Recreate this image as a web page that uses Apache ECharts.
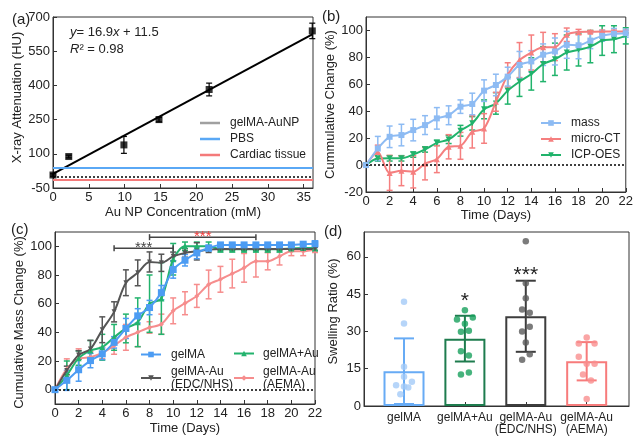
<!DOCTYPE html>
<html><head><meta charset="utf-8">
<script src="https://cdn.jsdelivr.net/npm/echarts@6/dist/echarts.min.js"></script>
<style>html,body{margin:0;padding:0;background:#fff}#c{width:636px;height:436px}</style>
</head><body><div id="c"></div>
<script>
// ---------- Panel (a) ----------
const aConc = [0, 2.2, 9.9, 14.8, 21.8, 36.2];
const aHU = [7, 88, 139, 250, 382, 639];
const aHUErr = [5, 6, 37, 10, 28, 34];
const aFitX = [0, 36.2];
const aFitY = [11.5, 623.3];
const aPBS = 37;
const aCardiac = -13;
const aXTicks = [0, 5, 10, 15, 20, 25, 30, 35];
const aYTicks = [-50, 100, 250, 400, 550, 700];

// ---------- Panel (b) ----------
const days = [0,1,2,3,4,5,6,7,8,9,10,11,12,13,14,15,16,17,18,19,20,21,22];
const bMass = [0,12.3,21,22.3,26,29.7,34.7,37,43.4,45.4,55.3,59.5,65.7,74.4,77,82,84.4,89.3,89,92.5,96,97.5,98];
const bMassErr = [0,9,8,8,8,7,8,7,5,8,8,8,7,10,8,8,10,10,10,6,4,4,3];
const bMicro = [0,9.8,-5.8,-4.3,-5,1,4.4,13.6,14.3,24.7,27.2,47,67,78,83.6,87.6,87.6,96.8,98.8,99,99.3,99.3,99.3];
const bMicroErr = [0,5,13,11,12,12,10,9,10,12,11,7,9,13,13,11,10,5,2,1,1,1,1];
const bIcp = [0,4.9,5,5,7.8,11.6,16.5,19,25.5,31,41.4,45.8,55.3,62,67.7,75,78.6,83.6,85.6,88,92.5,93.5,96];
const bIcpErr = [0,2,2,2,2,2,2,3,4,5,7,8,10,11,12,13,12,13,12,12,11,10,6];
const bYTicks = [-20, 0, 20, 40, 60, 80, 100];

// ---------- Panel (c) ----------
const cGelMA = [0,6.5,13.9,20.3,25,33,42.7,51.5,57.3,67.7,83.8,90.3,95.4,98.8,101,101,101,101,101,101,101,101.5,101.8];
const cGelMAErr = [0,7,8,5,4,4,7,5,5,5,6,4,4,2,1,1,1,1,1,1,1,1,2];
const cEdc = [0,13.4,24.2,28.4,41.8,54.3,74.6,81.5,89.1,88.5,93,95.4,96.5,97.7,98.2,98.2,98.2,98.2,98.2,98.2,98.2,98.2,98.2];
const cEdcErr = [0,3,3,6,9,7,9,9,7,6,3,3,6,2,1,1,1,1,1,1,1,1,1];
const cPlusAu = [0,10,22,27.3,29.6,36.5,42.7,47,60,63.6,91,100,100,100,98,98,98,98,98,98,98.5,98.8,98.8];
const cPlusAuErr = [0,10,5,7,9,9,10,17,20,25,11,3,3,3,2,2,2,2,2,2,2,2,2];
const cAema = [0,14.5,21.5,22.6,25.6,30.7,36.5,40,43.4,45.7,55,60.3,65.4,73.4,77,81,85,89.6,89.6,93,96.5,96.5,97.7];
const cAemaErr = [0,7,7,4,4,6,9,10,4,7,9,8,8,10,9,10,10,11,6,6,3,3,2];
const cBrackets = [[5, 10, 98.7], [8, 17, 106.4]];
const cBracketText = ['***', '***'];
const cYTicks = [0, 20, 40, 60, 80, 100];

// ---------- Panel (d) ----------
const dCats = ['gelMA', 'gelMA+Au', 'gelMA-Au\n(EDC/NHS)', 'gelMA-Au\n(AEMA)'];
const dMean = [14.0, 27.1, 36.1, 18.0];
const dSD = [13.2, 9.2, 14.3, 7.7];
const dPoints = [
  [41.9, 33.2, 15.8, 11.8, 8.3, 7.8, 7.4, 9.8, 4.7],
  [38.5, 34.8, 35.6, 33.1, 29.9, 30.3, 22.0, 20.3, 12.7, 13.5],
  [66.3, 49.4, 43.3, 38.8, 37.5, 30.0, 31.9, 25.5, 20.8, 18.6],
  [27.6, 25.1, 25.1, 19.8, 17.0, 17.0, 12.7, 10.3, 2.8]
];
const dJitter = [
  [0, 0, 0, 0, -0.13, 0, 0.07, 0.13, -0.06],
  [0, -0.13, 0.13, 0, -0.065, 0.065, -0.065, 0.065, -0.065, 0.065],
  [0, 0, 0, -0.06, 0.065, -0.06, 0.065, 0, 0.065, -0.06],
  [0, -0.13, 0.13, -0.13, 0, 0.13, -0.06, 0.07, 0]
];
const dSig = ['', '*', '***', ''];
const dSigY = [0, 42, 52.8, 0];
const dYTicks = [0, 15, 30, 45, 60];

// ---------- styles ----------
const FF = '"Liberation Sans", Arial, Helvetica, sans-serif';
const TXT = '#222';
const AX = '#333';

function axisBase(extra) {
  return Object.assign({
    axisLine: { show: true, onZero: false, lineStyle: { color: AX, width: 1 } },
    axisTick: { show: true, inside: true, length: 4, lineStyle: { color: AX } },
    axisLabel: { color: TXT, fontSize: 13, fontFamily: FF, margin: 3 },
    splitLine: { show: false },
    nameLocation: 'middle',
    nameTextStyle: { color: TXT, fontSize: 13, fontFamily: FF }
  }, extra);
}
function withTicks(ax, vals) {
  ax.axisLabel = Object.assign({}, ax.axisLabel, { customValues: vals });
  ax.axisTick = Object.assign({}, ax.axisTick, { customValues: vals });
  return ax;
}
function namePad(ax, pad) {
  ax.nameTextStyle = Object.assign({}, ax.nameTextStyle, { padding: pad });
  return ax;
}

function errSeries(xs, ys, es, colors, idx, cap, lw, z) {
  return {
    type: 'custom', xAxisIndex: idx, yAxisIndex: idx, silent: true, z: z || 2,
    data: xs.map((x, i) => [x, ys[i], es[i], i]),
    encode: { x: 0, y: 1 },
    renderItem: function (p, api) {
      const x = api.value(0), y = api.value(1), e = api.value(2), i = api.value(3);
      if (!e) return null;
      const t = api.coord([x, y + e]), b = api.coord([x, y - e]);
      const h = cap / 2;
      const c = Array.isArray(colors) ? colors[i] : colors;
      const st = { stroke: c, lineWidth: lw };
      return { type: 'group', children: [
        { type: 'line', shape: { x1: t[0], y1: t[1], x2: b[0], y2: b[1] }, style: st },
        { type: 'line', shape: { x1: t[0] - h, y1: t[1], x2: t[0] + h, y2: t[1] }, style: st },
        { type: 'line', shape: { x1: b[0] - h, y1: b[1], x2: b[0] + h, y2: b[1] }, style: st }
      ] };
    }
  };
}
function lineSeries(name, xs, ys, color, idx, symbol, size, rotate) {
  return {
    type: 'line', name, xAxisIndex: idx, yAxisIndex: idx, z: 3,
    data: xs.map((x, i) => [x, ys[i]]),
    smooth: 0.3, symbol, symbolSize: size, symbolRotate: rotate || 0,
    lineStyle: { color, width: 2 }, itemStyle: { color }
  };
}
function hLine(name, idx, y, color, type, width) {
  return {
    type: 'line', name, xAxisIndex: idx, yAxisIndex: idx, data: [], z: 1,
    itemStyle: { color },
    markLine: { silent: true, symbol: 'none', label: { show: false },
      lineStyle: { color, type, width },
      data: [{ yAxis: y }] }
  };
}

const C = {
  pbs: '#5aa8f5', cardiac: '#f47a7a',
  mass: '#8dbbf3', micro: '#f57f7f', icp: '#20b36b',
  gelma: '#4c9cf3', edc: '#555555', plus: '#22b36d', aema: '#f68d8d'
};
const dBorder = ['#67abf5', '#1e7c4e', '#3d3d3d', '#f77b7b'];
const dDot = ['#a4cbf7', '#18a05c', '#5a5a5a', '#f98f8f'];

const grids = [
  { left: 53, top: 17, width: 260, height: 171 },
  { left: 366, top: 17, width: 262, height: 175 },
  { left: 55, top: 232, width: 260, height: 173 },
  { left: 364, top: 232, width: 265, height: 175 }
].map(g => Object.assign(g, { show: true, borderColor: AX, borderWidth: 1, backgroundColor: 'transparent' }));

const xAxes = [
  withTicks(axisBase({ gridIndex: 0, type: 'value', min: 0, max: 36.3, name: 'Au NP Concentration (mM)', nameGap: 18 }), aXTicks),
  axisBase({ gridIndex: 1, type: 'value', min: 0, max: 22, interval: 2, name: 'Time (Days)', nameGap: 17 }),
  axisBase({ gridIndex: 2, type: 'value', min: 0, max: 22, interval: 2, name: 'Time (Days)', nameGap: 18 }),
  withTicks(axisBase({ gridIndex: 3, type: 'value', min: -0.657, max: 3.695 }), [0, 1, 2, 3])
];
xAxes[3].axisLabel.formatter = v => dCats[Math.round(v)];
xAxes[3].axisLabel.fontSize = 12;
xAxes[3].axisLabel.lineHeight = 12.5;
xAxes[3].axisLabel.margin = 5;

const yAxes = [
  namePad(withTicks(axisBase({ gridIndex: 0, type: 'value', min: -50, max: 700, name: 'X-ray Attenuation (HU)', nameGap: 29 }), aYTicks), [0, 0, 0, 10]),
  withTicks(axisBase({ gridIndex: 1, type: 'value', min: -20, max: 110, name: 'Cummulative Change (%)', nameGap: 27 }), bYTicks),
  namePad(withTicks(axisBase({ gridIndex: 2, type: 'value', min: -10, max: 110, name: 'Cumulative Mass Change (%)', nameGap: 28 }), cYTicks), [0, 9, 0, 0]),
  namePad(withTicks(axisBase({ gridIndex: 3, type: 'value', min: 0, max: 70, name: 'Swelling Ratio (%)', nameGap: 24 }), dYTicks), [0, 0, 0, 15])
];

const series = [];
// (a)
series.push(hLine('zeroA', 0, 0, '#000', [2, 2], 1.5));
series.push(hLine('PBS', 0, aPBS, C.pbs, 'solid', 2));
series.push(hLine('Cardiac tissue', 0, aCardiac, C.cardiac, 'solid', 2));
series.push({ type: 'line', name: 'fit', xAxisIndex: 0, yAxisIndex: 0, z: 3, symbol: 'none',
  data: aFitX.map((x, i) => [x, aFitY[i]]), lineStyle: { color: '#000', width: 2 } });
series.push(errSeries(aConc, aHU, aHUErr, '#000', 0, 6, 1.2, 4));
series.push({ type: 'scatter', name: 'gelMA-AuNP', xAxisIndex: 0, yAxisIndex: 0, z: 5,
  data: aConc.map((x, i) => [x, aHU[i]]), symbol: 'rect', symbolSize: 7, itemStyle: { color: '#000' } });

// (b)
series.push(hLine('zeroB', 1, 0, '#000', [2, 2], 1.5));
series.push(errSeries(days, bIcp, bIcpErr, C.icp, 1, 6, 1.5, 2));
series.push(errSeries(days, bMicro, bMicroErr, C.micro, 1, 6, 1.5, 2));
series.push(errSeries(days, bMass, bMassErr, C.mass, 1, 6, 1.5, 2));
series.push(lineSeries('ICP-OES', days, bIcp, C.icp, 1, 'triangle', 6, 180));
series.push(lineSeries('micro-CT', days, bMicro, C.micro, 1, 'triangle', 6));
series.push(lineSeries('mass', days, bMass, C.mass, 1, 'rect', 6));

// (c)
series.push(hLine('zeroC', 2, 0, '#000', [2, 2], 1.5));
series.push(errSeries(days, cAema, cAemaErr, C.aema, 2, 6, 1.5, 2));
series.push(errSeries(days, cPlusAu, cPlusAuErr, C.plus, 2, 6, 1.5, 2));
series.push(errSeries(days, cEdc, cEdcErr, C.edc, 2, 6, 1.5, 2));
series.push(errSeries(days, cGelMA, cGelMAErr, C.gelma, 2, 6, 1.5, 2));
series.push(lineSeries('gelMA-Au (AEMA)', days, cAema, C.aema, 2, 'diamond', 5));
series.push(lineSeries('gelMA+Au', days, cPlusAu, C.plus, 2, 'triangle', 6));
series.push(lineSeries('gelMA-Au (EDC/NHS)', days, cEdc, C.edc, 2, 'triangle', 5, 180));
series.push(lineSeries('gelMA', days, cGelMA, C.gelma, 2, 'rect', 7));
series.push({
  type: 'custom', xAxisIndex: 2, yAxisIndex: 2, silent: true, z: 6,
  data: cBrackets.map((b, i) => [b[0], b[1], b[2], i]),
  encode: { x: 0, y: 2 },
  renderItem: function (p, api) {
    const x1 = api.value(0), x2 = api.value(1), y = api.value(2), i = api.value(3);
    const a = api.coord([x1, y]), b = api.coord([x2, y]);
    const st = { stroke: '#444', lineWidth: 1.5 };
    return { type: 'group', children: [
      { type: 'line', shape: { x1: a[0], y1: a[1], x2: b[0], y2: b[1] }, style: st },
      { type: 'line', shape: { x1: a[0], y1: a[1] - 3, x2: a[0], y2: a[1] + 3 }, style: st },
      { type: 'line', shape: { x1: b[0], y1: b[1] - 3, x2: b[0], y2: b[1] + 3 }, style: st },
      { type: 'text', x: (a[0] + b[0]) / 2, y: a[1], style: {
        text: cBracketText[i], fill: i === 0 ? '#444' : '#f03c3c', fontSize: 15, fontFamily: FF,
        align: 'center', verticalAlign: 'middle', textAlign: 'center', textVerticalAlign: 'middle' } }
    ] };
  }
});

// (d)
series.push({
  type: 'bar', name: 'bars', xAxisIndex: 3, yAxisIndex: 3, barWidth: 41, z: 2,
  data: dMean.map((m, i) => ({ value: [i, m], itemStyle: { color: 'rgba(255,255,255,0)', borderColor: dBorder[i], borderWidth: 2 } }))
});
series.push(errSeries([0, 1, 2, 3], dMean, dSD, dBorder, 3, 20, 2, 3));
const dots = [];
dPoints.forEach((arr, g) => arr.forEach((v, k) => dots.push({ value: [g + dJitter[g][k], v], itemStyle: { color: dDot[g] } })));
series.push({ type: 'scatter', name: 'dots', xAxisIndex: 3, yAxisIndex: 3, z: 4, symbolSize: 6.5, data: dots });
series.push({
  type: 'custom', xAxisIndex: 3, yAxisIndex: 3, silent: true, z: 6,
  data: dSig.map((s, i) => [i, dSigY[i], i]),
  encode: { x: 0, y: 1 },
  renderItem: function (p, api) {
    const i = api.value(2);
    if (!dSig[i]) return null;
    const pt = api.coord([api.value(0), api.value(1)]);
    return { type: 'text', x: pt[0], y: pt[1], style: { text: dSig[i], fill: '#222', fontSize: 21, fontFamily: FF,
      align: 'center', verticalAlign: 'middle', textAlign: 'center', textVerticalAlign: 'middle' } };
  }
});

const legTxt = { color: TXT, fontSize: 12, fontFamily: FF, padding: [0, 0, 0, 5], lineHeight: 14 };
const legends = [
  { left: 200, top: 116, padding: 0, orient: 'vertical', itemWidth: 20, itemHeight: 2.5, itemGap: 2, icon: 'rect',
    textStyle: legTxt, selectedMode: false,
    data: [
      { name: 'gelMA-AuNP', itemStyle: { color: '#888' } },
      { name: 'PBS', itemStyle: { color: C.pbs } },
      { name: 'Cardiac tissue', itemStyle: { color: C.cardiac } }
    ] },
  { left: 540, top: 116, padding: 0, orient: 'vertical', itemWidth: 20, itemHeight: 7, itemGap: 2,
    textStyle: legTxt, selectedMode: false, data: ['mass', 'micro-CT', 'ICP-OES'] },
  { left: 140, top: 348, padding: 0, orient: 'vertical', itemWidth: 20, itemHeight: 7, itemGap: 4,
    textStyle: Object.assign({}, legTxt, { lineHeight: 13 }), selectedMode: false,
    formatter: n => n.replace(' (', '\n('), data: ['gelMA', 'gelMA-Au (EDC/NHS)'] },
  { left: 233, top: 347, padding: 0, orient: 'vertical', itemWidth: 20, itemHeight: 7, itemGap: 5,
    textStyle: Object.assign({}, legTxt, { lineHeight: 13, padding: [0, 0, 0, 4] }), selectedMode: false,
    formatter: n => n.replace(' (', '\n('), data: ['gelMA+Au', 'gelMA-Au (AEMA)'] }
];

function label(text, x, y) {
  return { type: 'text', left: x, top: y, style: { text, fill: TXT, fontSize: 15, fontFamily: FF } };
}
const graphic = [
  label('(a)', 12, 12), label('(b)', 322, 9), label('(c)', 11, 222), label('(d)', 324, 224),
  { type: 'text', left: 70, top: 26, style: { text: '{i|y}= 16.9{i|x} + 11.5', fill: TXT, fontSize: 13, fontFamily: FF,
    rich: { i: { fontStyle: 'italic', fontSize: 13, fontFamily: FF, fill: TXT } } } },
  { type: 'text', left: 70, top: 43, style: { text: '{i|R}² = 0.98', fill: TXT, fontSize: 13, fontFamily: FF,
    rich: { i: { fontStyle: 'italic', fontSize: 13, fontFamily: FF, fill: TXT } } } }
];

const chart = echarts.init(document.getElementById('c'), null, { renderer: 'canvas' });
chart.setOption({
  animation: false, backgroundColor: '#fff',
  textStyle: { fontFamily: FF },
  grid: grids, xAxis: xAxes, yAxis: yAxes, legend: legends, series, graphic
});
</script></body></html>
